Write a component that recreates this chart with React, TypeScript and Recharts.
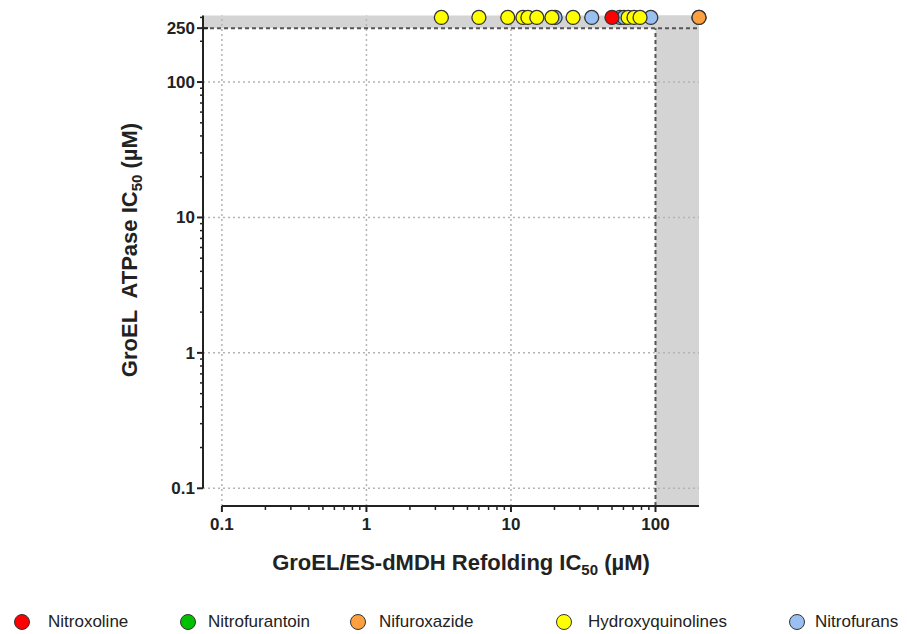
import React from 'react';
import { ScatterChart, Scatter, XAxis, YAxis, ReferenceLine, ReferenceArea } from 'recharts';

// all compounds sit above the 250 µM ATPase cutoff (plotted at ~300)
const nitroxoline = [{ x: 50, y: 300 }];
const nitrofurantoin = [{ x: 200, y: 300 }];
const nifuroxazide = [{ x: 200, y: 300 }];
const hydroxyquinolines = [
    { x: 3.3, y: 300 },
    { x: 6.0, y: 300 },
    { x: 9.5, y: 300 },
    { x: 12.1, y: 300 },
    { x: 13.1, y: 300 },
    { x: 15.1, y: 300 },
    { x: 19.2, y: 300 },
    { x: 26.9, y: 300 },
    { x: 64.6, y: 300 },
    { x: 71, y: 300 },
    { x: 78.2, y: 300 },
];
const nitrofurans = [
    { x: 20.2, y: 300 },
    { x: 36.2, y: 300 },
    { x: 56.9, y: 300 },
    { x: 60.5, y: 300 },
    { x: 92.8, y: 300 },
];

const xTicks = [
    0.1, 0.2, 0.3, 0.4, 0.5, 0.6, 0.7, 0.8, 0.9,
    1, 2, 3, 4, 5, 6, 7, 8, 9,
    10, 20, 30, 40, 50, 60, 70, 80, 90,
    100,
];
const yTicks = [
    0.1, 0.2, 0.3, 0.4, 0.5, 0.6, 0.7, 0.8, 0.9,
    1, 2, 3, 4, 5, 6, 7, 8, 9,
    10, 20, 30, 40, 50, 60, 70, 80, 90,
    100, 200, 250, 300,
];
const xLabels = [0.1, 1, 10, 100];
const yLabels = [0.1, 1, 10, 100, 250];
const xGrid = [0.1, 1, 10];
const yGrid = [0.1, 1, 10, 100];

const X_MIN = 0.074;
const X_MAX = 200;
const Y_MIN = 0.074;
const Y_MAX = 310;

const legendItems = [
    { name: 'Nitroxoline', color: '#ff0000', cx: 22, gap: 18 },
    { name: 'Nitrofurantoin', color: '#00c000', cx: 188, gap: 12 },
    { name: 'Nifuroxazide', color: '#ffa040', cx: 358, gap: 13 },
    { name: 'Hydroxyquinolines', color: '#ffff00', cx: 564, gap: 16 },
    { name: 'Nitrofurans', color: '#99c0f0', cx: 797, gap: 10 },
];

const font = '"Liberation Sans", Arial, sans-serif';

const dot = (color: string) => (props: any) => (
    <circle cx={props.cx} cy={props.cy} r={7} fill={color} stroke="#333" strokeWidth={1.3} />
);

const XTick = ({ x, y, payload }: any) => {
    const v = payload.value;
    const major = xLabels.includes(v);
    return (
        <g>
            <line x1={x} x2={x} y1={y} y2={y + (major ? 6 : 4)} stroke="#222" strokeWidth={major ? 2 : 1.5} />
            {major && (
                <text x={x} y={y + 24} textAnchor="middle" fontFamily={font} fontWeight="bold" fontSize={17} fill="#222">
                    {v}
                </text>
            )}
        </g>
    );
};

const YTick = ({ x, y, payload }: any) => {
    const v = payload.value;
    const major = yLabels.includes(v);
    return (
        <g>
            <line x1={x - (major ? 6 : 3)} x2={v === 250 ? x + 5 : x} y1={y} y2={y} stroke="#222" strokeWidth={major ? 2 : 1.5} />
            {major && (
                <text x={x - 8} y={y + 6} textAnchor="end" fontFamily={font} fontWeight="bold" fontSize={17} fill="#222">
                    {v}
                </text>
            )}
        </g>
    );
};

export default function App() {
    return (
        <div style={{ position: 'absolute', left: 0, top: 0, width: 907, height: 634, background: '#fff', fontFamily: font }}>
            <ScatterChart width={907} height={634} margin={{ top: 15.5, right: 208, bottom: 98, left: 143 }}>
                <XAxis
                    type="number"
                    dataKey="x"
                    scale="log"
                    domain={[X_MIN, X_MAX]}
                    ticks={xTicks}
                    interval={0}
                    tick={<XTick />}
                    tickSize={0}
                    tickMargin={0}
                    axisLine={false}
                    tickLine={false}
                    height={30}
                />
                <YAxis
                    type="number"
                    dataKey="y"
                    scale="log"
                    domain={[Y_MIN, Y_MAX]}
                    ticks={yTicks}
                    interval={0}
                    tick={<YTick />}
                    tickSize={0}
                    tickMargin={0}
                    axisLine={false}
                    tickLine={false}
                    width={60}
                />
                <ReferenceArea x1={100} x2={X_MAX} y1={Y_MIN} y2={Y_MAX} fill="#d4d4d4" fillOpacity={1} stroke="none" />
                <ReferenceArea x1={X_MIN} x2={X_MAX} y1={250} y2={Y_MAX} fill="#d4d4d4" fillOpacity={1} stroke="none" />
                {xGrid.map((v) => (
                    <ReferenceLine key={'gx' + v} x={v} stroke="#b4b4b4" strokeWidth={1.5} strokeDasharray="2 3" />
                ))}
                {yGrid.map((v) => (
                    <ReferenceLine key={'gy' + v} y={v} stroke="#b4b4b4" strokeWidth={1.5} strokeDasharray="2 3" />
                ))}
                <ReferenceLine y={250} stroke="#555" strokeWidth={2} strokeDasharray="4 3" />
                <ReferenceLine segment={[{ x: 100, y: Y_MIN }, { x: 100, y: 250 }]} stroke="#555" strokeWidth={2} strokeDasharray="4 3" />
                <ReferenceLine segment={[{ x: X_MIN, y: 0.1 }, { x: X_MIN, y: Y_MAX }]} stroke="#222" strokeWidth={2} />
                <ReferenceLine segment={[{ x: 0.1, y: Y_MIN }, { x: X_MAX, y: Y_MIN }]} stroke="#222" strokeWidth={2} />
                <Scatter data={nitrofurans} shape={dot('#99c0f0')} isAnimationActive={false} />
                <Scatter data={nitroxoline} shape={dot('#ff0000')} isAnimationActive={false} />
                <Scatter data={nitrofurantoin} shape={dot('#00c000')} isAnimationActive={false} />
                <Scatter data={nifuroxazide} shape={dot('#ffa040')} isAnimationActive={false} />
                <Scatter data={hydroxyquinolines} shape={dot('#ffff00')} isAnimationActive={false} />
            </ScatterChart>

            <div
                style={{
                    position: 'absolute', left: 461, top: 550, transform: 'translateX(-50%)',
                    whiteSpace: 'nowrap', fontSize: 22, fontWeight: 'bold', color: '#222',
                }}
            >
                GroEL/ES-dMDH Refolding IC<sub style={{ fontSize: 15 }}>50</sub> (µM)
            </div>
            <div
                style={{
                    position: 'absolute', left: 131, top: 250, transform: 'translate(-50%, -50%) rotate(-90deg)',
                    whiteSpace: 'nowrap', fontSize: 22, fontWeight: 'bold', color: '#222',
                }}
            >
                GroEL&nbsp; ATPase IC<sub style={{ fontSize: 15 }}>50</sub> (µM)
            </div>

            {legendItems.map((it) => (
                <div
                    key={it.name}
                    style={{ position: 'absolute', left: it.cx - 8, top: 612, display: 'flex', alignItems: 'center', whiteSpace: 'nowrap' }}
                >
                    <span
                        style={{
                            display: 'inline-block', width: 14, height: 14, borderRadius: '50%',
                            background: it.color, border: '1.3px solid #333', marginRight: it.gap,
                        }}
                    />
                    <span style={{ fontSize: 17, color: '#222' }}>{it.name}</span>
                </div>
            ))}
        </div>
    );
}
